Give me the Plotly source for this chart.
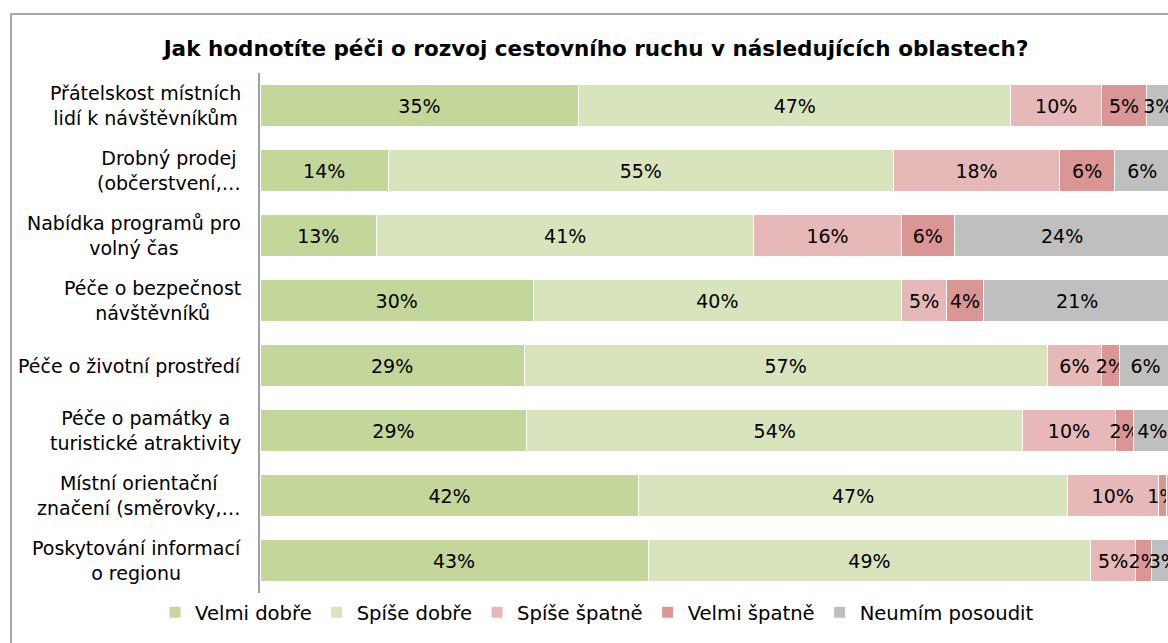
import plotly.graph_objects as go

# oblasti (shora dolů)
categories = [
    'Přátelskost místních<br>lidí k návštěvníkům',
    'Drobný prodej<br>(občerstvení,…',
    'Nabídka programů pro<br>volný čas',
    'Péče o bezpečnost<br>návštěvníků',
    'Péče o životní prostředí',
    'Péče o památky a<br>turistické atraktivity',
    'Místní orientační<br>značení (směrovky,…',
    'Poskytování informací<br>o regionu',
]

series_names = ['Velmi dobře', 'Spíše dobře', 'Spíše špatně', 'Velmi špatně', 'Neumím posoudit']
colors = ['#C4D79B', '#D8E4BC', '#E6B8B7', '#DA9694', '#BFBFBF']

velmi_dobre = [35.0, 14.1, 12.8, 30.0, 29.0, 29.3, 41.6, 42.6]
spise_dobre = [47.4, 55.4, 41.4, 40.4, 57.4, 54.4, 47.0, 48.6]
spise_spatne = [10.0, 18.3, 16.2, 5.0, 6.0, 10.2, 10.0, 4.9]
velmi_spatne = [4.9, 6.0, 5.8, 4.0, 2.0, 2.0, 0.9, 1.8]
neumim = [2.6, 6.1, 23.7, 20.6, 5.6, 4.1, 0.5, 2.6]

series_values = [velmi_dobre, spise_dobre, spise_spatne, velmi_spatne, neumim]

title = 'Jak hodnotíte péči o rozvoj cestovního ruchu v následujících oblastech?'

W, H = 1168, 643
ML, MR, MT, MB = 260, 0, 73, 50
pw = W - ML - MR
ph = H - MT - MB
FONT = 'DejaVu Sans, Arial, sans-serif'

fig = go.Figure()
for name, vals, col in zip(series_names, series_values, colors):
    labels = [f'{v:.0f}%' if v >= 0.8 else '' for v in vals]
    fig.add_trace(go.Bar(
        y=categories, x=vals, name=name, orientation='h',
        marker=dict(color=col, line=dict(color='white', width=1)),
        text=labels, textposition='inside', insidetextanchor='middle',
        textangle=0, constraintext='none',
        textfont=dict(size=19, color='#000000'),
        hoverinfo='skip',
    ))

# popisky kategorií (zarovnané na střed jako v Excelu)
for c in categories:
    fig.add_annotation(
        xref='paper', yref='y', x=(243 - ML) / pw, y=c,
        text=c, showarrow=False, xanchor='right', align='center',
        font=dict(size=19, color='#000000'),
    )

# rámeček grafu
fig.add_shape(type='rect', xref='paper', yref='paper',
              x0=(11 - ML) / pw, x1=1.2, y0=-0.5, y1=(ph + MT - 14) / ph,
              line=dict(color='#8C8C8C', width=1.5), fillcolor='rgba(0,0,0,0)', layer='below')

fig.update_layout(
    width=W, height=H,
    margin=dict(l=ML, r=MR, t=MT, b=MB),
    barmode='stack', bargap=0.35,
    plot_bgcolor='white', paper_bgcolor='white',
    font=dict(family=FONT, size=19, color='#000000'),
    title=dict(text='<b>' + title + '</b>', x=596 / W, xanchor='center',
               y=1 - 48 / H, yanchor='middle', font=dict(size=21.5)),
    xaxis=dict(range=[0, pw / 911 * 100], visible=False, fixedrange=True),
    yaxis=dict(autorange='reversed', showticklabels=False, showgrid=False, zeroline=False,
               showline=True, linecolor='#A0A0A0', linewidth=2, ticks=''),
    legend=dict(orientation='h', x=(155 - ML) / pw, xanchor='left', y=0.0, yanchor='top',
                font=dict(size=19.6), traceorder='normal', itemwidth=30),
    showlegend=True,
)

fig.write_html('out.html', config={'displayModeBar': False},
               post_script="document.body.style.margin='0';")
